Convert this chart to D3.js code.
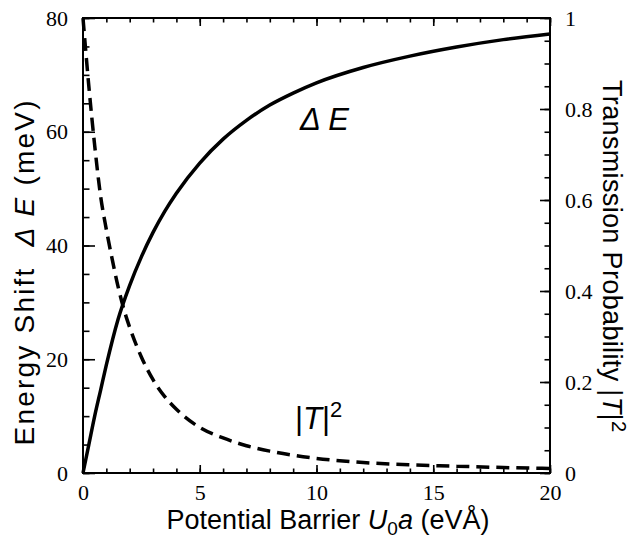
<!DOCTYPE html>
<html>
<head>
<meta charset="utf-8">
<script src="https://cdn.jsdelivr.net/npm/d3@7"></script>
<style>
  body { margin: 0; background: #fff; }
  text { white-space: pre; }
</style>
</head>
<body>
<div id="chart"></div>
<script>
// energy shift (meV) vs U0a (eV A)
var shiftX = [0, 0.25, 0.5, 0.75, 1, 1.5, 2, 2.5, 3, 3.5, 4, 5, 6, 7, 8, 9, 10, 12, 14, 16, 18, 20];
var shiftY = [0, 5, 10, 14.5, 19, 27, 33, 38, 42.3, 46, 49.2, 54.5, 58.7, 62, 64.7, 66.8, 68.6, 71.3, 73.3, 74.9, 76.2, 77.2];

// transmission probability |T|^2
var transX = [0, 0.25, 0.5, 0.75, 1, 1.25, 1.5, 1.75, 2, 2.5, 3, 3.5, 4, 5, 6, 7, 8, 9, 10, 12, 14, 16, 18, 20];
var transY = [1.0, 0.85, 0.72, 0.61, 0.535, 0.47, 0.41, 0.36, 0.32, 0.255, 0.205, 0.168, 0.14, 0.1, 0.077, 0.06, 0.048, 0.039, 0.032, 0.023, 0.018, 0.015, 0.012, 0.01];

var xTicks = [0, 5, 10, 15, 20];
var leftTicks = [0, 20, 40, 60, 80];
var rightTicks = [0, 0.2, 0.4, 0.6, 0.8, 1];

var width = 631,
    height = 538,
    margin = {top: 18, right: 81, bottom: 65, left: 83};

var svg = d3.select("#chart")
    .append("svg")
    .attr("width", width)
    .attr("height", height);

var x = d3.scaleLinear().domain([0, 20]).range([margin.left, width - margin.right]);
var yL = d3.scaleLinear().domain([0, 80]).range([height - margin.bottom, margin.top]);
var yR = d3.scaleLinear().domain([0, 1]).range([height - margin.bottom, margin.top]);

var x0 = margin.left, x1 = width - margin.right,
    y0 = height - margin.bottom, y1 = margin.top;

function styleAxis(g) {
    g.select(".domain").remove();
    g.selectAll(".tick line").attr("stroke", "#000").attr("stroke-width", 1.6);
    g.selectAll("text")
        .attr("fill", "#000")
        .style("font-family", "'Liberation Serif', 'Times New Roman', serif")
        .style("font-size", "22px");
}

// minor ticks
svg.append("g").attr("transform", "translate(0," + y0 + ")")
    .call(d3.axisBottom(x).tickValues(d3.range(0, 21, 1)).tickFormat("").tickSize(-4.5).tickSizeOuter(0))
    .call(styleAxis);
svg.append("g").attr("transform", "translate(0," + y1 + ")")
    .call(d3.axisTop(x).tickValues(d3.range(0, 21, 1)).tickFormat("").tickSize(-4.5).tickSizeOuter(0))
    .call(styleAxis);
svg.append("g").attr("transform", "translate(" + x0 + ",0)")
    .call(d3.axisLeft(yL).tickValues(d3.range(0, 81, 5)).tickFormat("").tickSize(-6.5).tickSizeOuter(0))
    .call(styleAxis);
svg.append("g").attr("transform", "translate(" + x1 + ",0)")
    .call(d3.axisRight(yR).tickValues(d3.range(0, 1.001, 0.05)).tickFormat("").tickSize(-5.5).tickSizeOuter(0))
    .call(styleAxis);

// major ticks with labels
svg.append("g").attr("transform", "translate(0," + y0 + ")")
    .call(d3.axisBottom(x).tickValues(xTicks).tickFormat(d3.format("d")).tickSize(-8).tickPadding(11).tickSizeOuter(0))
    .call(styleAxis);
svg.append("g").attr("transform", "translate(0," + y1 + ")")
    .call(d3.axisTop(x).tickValues(xTicks).tickFormat("").tickSize(-8).tickSizeOuter(0))
    .call(styleAxis);
svg.append("g").attr("transform", "translate(" + x0 + ",0)")
    .call(d3.axisLeft(yL).tickValues(leftTicks).tickFormat(d3.format("d")).tickSize(-12).tickPadding(15).tickSizeOuter(0))
    .call(styleAxis);
svg.append("g").attr("transform", "translate(" + x1 + ",0)")
    .call(d3.axisRight(yR).tickValues(rightTicks).tickFormat(function (d) { return d === 0 || d === 1 ? d : d3.format(".1f")(d); }).tickSize(-10).tickPadding(15).tickSizeOuter(0))
    .call(styleAxis);

// frame
svg.append("rect")
    .attr("x", x0).attr("y", y1)
    .attr("width", x1 - x0).attr("height", y0 - y1)
    .attr("fill", "none").attr("stroke", "#000").attr("stroke-width", 2);

// curves
var shiftLine = d3.line()
    .x(function (d, i) { return x(shiftX[i]); })
    .y(function (d) { return yL(d); })
    .curve(d3.curveMonotoneX);

var transLine = d3.line()
    .x(function (d, i) { return x(transX[i]); })
    .y(function (d) { return yR(d); })
    .curve(d3.curveMonotoneX);

svg.append("path")
    .attr("d", shiftLine(shiftY))
    .attr("fill", "none").attr("stroke", "#000").attr("stroke-width", 3.5);

svg.append("path")
    .attr("d", transLine(transY))
    .attr("fill", "none").attr("stroke", "#000").attr("stroke-width", 3.5)
    .attr("stroke-dasharray", "13,7");

var sans = "'Liberation Sans', Arial, Helvetica, sans-serif";

// in-plot labels
svg.append("text")
    .attr("x", 300).attr("y", 130)
    .style("font-family", sans).style("font-size", "31px").style("font-style", "italic")
    .text("Δ E");

var tl = svg.append("text")
    .attr("x", 295).attr("y", 429)
    .style("font-family", sans).style("font-size", "31px");
tl.append("tspan").text("|");
tl.append("tspan").style("font-style", "italic").text("T");
tl.append("tspan").text("|");
tl.append("tspan").attr("dy", -12).style("font-size", "22px").text("2");

// axis titles
var xt = svg.append("text")
    .attr("x", 328).attr("y", 529)
    .attr("text-anchor", "middle")
    .attr("textLength", 323).attr("lengthAdjust", "spacing")
    .style("font-family", sans).style("font-size", "27px");
xt.append("tspan").text("Potential Barrier ");
xt.append("tspan").style("font-style", "italic").text("U");
xt.append("tspan").attr("dy", 6).style("font-size", "19px").text("0");
xt.append("tspan").attr("dy", -6).style("font-style", "italic").text("a");
xt.append("tspan").text(" (eVÅ)");

var lt = svg.append("text")
    .attr("transform", "translate(34,273) rotate(-90)")
    .attr("text-anchor", "middle")
    .attr("textLength", 345).attr("lengthAdjust", "spacing")
    .style("font-family", sans).style("font-size", "28px");
lt.append("tspan").text("Energy Shift  ");
lt.append("tspan").style("font-style", "italic").text("Δ E");
lt.append("tspan").text(" (meV)");

var rt = svg.append("text")
    .attr("transform", "translate(603,256) rotate(90)")
    .attr("text-anchor", "middle")
    .attr("textLength", 352).attr("lengthAdjust", "spacing")
    .style("font-family", sans).style("font-size", "27px");
rt.append("tspan").text("Transmission Probability |");
rt.append("tspan").style("font-style", "italic").text("T");
rt.append("tspan").text("|");
rt.append("tspan").attr("dy", -9).style("font-size", "20px").text("2");
</script>
</body>
</html>
